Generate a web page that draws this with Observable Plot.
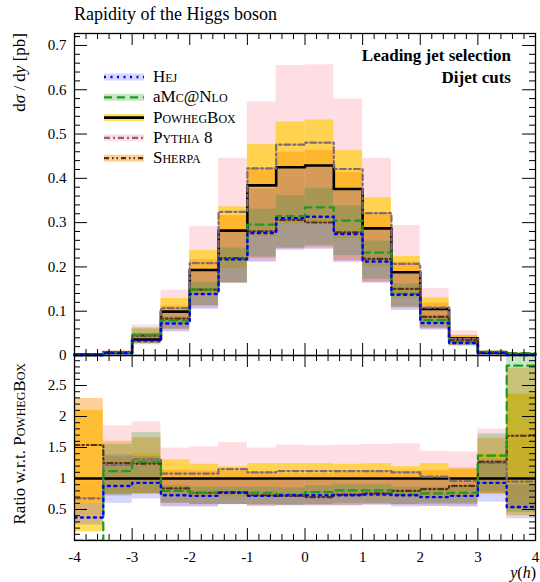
<!DOCTYPE html>
<html><head><meta charset="utf-8">
<script src="https://cdn.jsdelivr.net/npm/d3@7"></script>
<script src="https://cdn.jsdelivr.net/npm/@observablehq/plot@0.6"></script>
<style>
body{margin:0;background:#fff;}
#chart{position:relative;width:540px;height:582px;background:#fff;}
#chart svg{display:block;}
</style></head><body><div id="chart"></div>
<script>
// ---- data ----
const binEdges = [-4,-3.5,-3,-2.5,-2,-1.5,-1,-0.5,0,0.5,1,1.5,2,2.5,3,3.5,4];
// PowhegBox central value dσ/dy [pb]
const powhegXS = [0.002,0.006,0.036,0.099,0.193,0.282,0.384,0.425,0.429,0.376,0.287,0.188,0.105,0.039,0.006,0.002];
// ratios w.r.t. PowhegBox (central)
const powhegRatio = [1,1,1,1,1,1,1,1,1,1,1,1,1,1,1,1];
const hejRatio    = [0.37,0.88,0.93,0.73,0.72,0.77,0.72,0.73,0.73,0.73,0.74,0.73,0.70,0.72,0.93,0.54];
const amcRatio    = [0.00,1.12,1.27,0.80,0.77,0.77,0.77,0.74,0.78,0.81,0.81,0.74,0.76,0.77,1.37,2.82];
const pythiaRatio = [0.68,1.22,1.31,1.08,1.08,1.15,1.10,1.12,1.12,1.12,1.12,1.10,1.03,0.96,1.25,0.95];
const sherpaRatio = [1.54,1.25,1.24,0.84,0.77,0.78,0.73,0.72,0.70,0.74,0.76,0.80,0.83,0.88,1.27,1.69];
// uncertainty bands (ratio units)
const powhegLo = [0.14,0.75,0.75,0.72,0.70,0.70,0.70,0.70,0.70,0.70,0.70,0.70,0.70,0.70,0.75,0.40];
const powhegHi = [2.10,1.35,1.40,1.30,1.23,1.19,1.24,1.24,1.24,1.23,1.24,1.19,1.24,1.15,1.40,2.36];
const sherpaLo = [0.60,0.75,0.75,0.60,0.58,0.58,0.57,0.57,0.57,0.57,0.58,0.58,0.60,0.60,0.75,0.50];
const sherpaHi = [2.29,1.60,1.66,1.13,1.12,1.12,1.10,1.08,1.08,1.10,1.12,1.12,1.13,1.17,1.65,2.78];
const hejLo    = [0.25,0.60,0.67,0.54,0.54,0.58,0.55,0.56,0.56,0.56,0.57,0.54,0.55,0.54,0.62,0.35];
const hejHi    = [0.60,1.38,1.35,1.00,1.00,1.00,0.98,1.00,1.00,1.00,1.00,1.00,0.98,0.95,1.30,0.90];
const amcLo    = [0.00,0.72,0.76,0.60,0.58,0.58,0.58,0.57,0.58,0.60,0.60,0.58,0.58,0.58,0.78,0.45];
const amcHi    = [0.00,1.55,1.74,0.88,0.86,0.86,0.86,0.85,0.88,0.90,0.90,0.86,0.86,0.88,1.72,3.10];
const pythiaLo = [0.40,0.72,0.75,0.55,0.55,0.58,0.55,0.56,0.56,0.56,0.57,0.56,0.55,0.55,0.75,0.60];
const pythiaHi = [0.95,1.85,1.91,1.49,1.51,1.58,1.49,1.54,1.53,1.54,1.55,1.56,1.44,1.43,1.80,1.73];

const topYTicks = [0,0.1,0.2,0.3,0.4,0.5,0.6,0.7];
const ratioYTicks = [0.5,1,1.5,2,2.5];
const xTicks = [-4,-3,-2,-1,0,1,2,3,4];
const legendNames = ["Hej","aMc@Nlo","PowhegBox","Pythia 8","Sherpa"];

// ---- styles ----
const S = {
  hej:    {ratio:hejRatio,    lo:hejLo,    hi:hejHi,    stroke:"#0000ff", width:2.4, dash:"2,4.5",  fill:"#3333ff", op:0.2},
  amc:    {ratio:amcRatio,    lo:amcLo,    hi:amcHi,    stroke:"#1f9a1f", width:2.2, dash:"8,5",    fill:"#1a9a1a", op:0.25},
  powheg: {ratio:powhegRatio, lo:powhegLo, hi:powhegHi, stroke:"#000000", width:2.6, dash:null,     fill:"#ffcc00", op:0.65},
  pythia: {ratio:pythiaRatio, lo:pythiaLo, hi:pythiaHi, stroke:"#806a74", width:2.2, dash:"6,3,2,3", fill:"#ffb6c1", op:0.45},
  sherpa: {ratio:sherpaRatio, lo:sherpaLo, hi:sherpaHi, stroke:"#5b3010", width:2.2, dash:"5,3,1.5,3,1.5,3", fill:"#ff8c00", op:0.4}
};
const bandOrder = ["pythia","powheg","sherpa","amc","hej"];
const lineOrder = ["powheg","pythia","sherpa","amc","hej"];
const legendOrder = ["hej","amc","powheg","pythia","sherpa"];

function bandRows(lo, hi, scale) {
  return lo.map((l,i)=>({x1:binEdges[i], x2:binEdges[i+1], y1:l*(scale?scale[i]:1), y2:hi[i]*(scale?scale[i]:1)}));
}
function stepRows(vals, scale) {
  const pts = vals.map((v,i)=>({x:binEdges[i], y:v*(scale?scale[i]:1)}));
  pts.push({x:binEdges[binEdges.length-1], y:pts[pts.length-1].y});
  return pts;
}
const FONT = "Liberation Serif, DejaVu Serif, serif";
const W = 540, ML = 74, MR = 5;
const FW = W - ML - MR;

function innerTicks(xMaj, xMin, yMaj, yMin, FH) {
  const out = [];
  const tx = (v, len, side) => Plot.tickX(v, {x:d=>d, stroke:"#000", strokeWidth:1, [side]: FH - len});
  const ty = (v, len, side) => Plot.tickY(v, {y:d=>d, stroke:"#000", strokeWidth:1, [side]: FW - len});
  out.push(tx(xMaj, 12, "insetTop"), tx(xMin, 6, "insetTop"), tx(xMaj, 12, "insetBottom"), tx(xMin, 6, "insetBottom"));
  out.push(ty(yMaj, 13, "insetRight"), ty(yMin, 6, "insetRight"), ty(yMaj, 13, "insetLeft"), ty(yMin, 6, "insetLeft"));
  return out;
}
const xMajor = xTicks;
const xMinor = d3.range(-20, 21).filter(i => i % 5 !== 0).map(i => i/5);

// ---- top panel ----
const topH = 355, topMT = 33;
const topMarks = [];
for (const k of bandOrder) {
  const s = S[k];
  topMarks.push(Plot.rect(bandRows(s.lo, s.hi, powhegXS), {x1:"x1", x2:"x2", y1:"y1", y2:"y2", fill:s.fill, fillOpacity:s.op}));
}
for (const k of lineOrder) {
  const s = S[k];
  topMarks.push(Plot.line(stepRows(s.ratio, powhegXS), {x:"x", y:"y", curve:"step-after", stroke:s.stroke, strokeWidth:s.width, strokeDasharray:s.dash}));
}
topMarks.push(...innerTicks(xMajor, xMinor, topYTicks, d3.range(0, 37).filter(i=>i%5!==0).map(i=>i/50), topH - topMT));
topMarks.push(Plot.axisY({ticks: topYTicks, tickSize:0, tickPadding:8, fontSize:15, tickFormat:d=>String(d)}));
topMarks.push(Plot.frame({stroke:"#000", strokeWidth:1.3}));

const topSvg = Plot.plot({
  width: W, height: topH, marginLeft: ML, marginRight: MR, marginTop: topMT, marginBottom: 0,
  x: {domain:[-4,4], axis:null},
  y: {domain:[0,0.727], axis:null},
  style: {fontFamily: FONT, fontSize:"15px", background:"white", color:"#000", overflow:"visible"},
  marks: topMarks
});

// ---- ratio panel ----
const botH = 227, botMB = 42;
const botMarks = [];
for (const k of bandOrder) {
  const s = S[k];
  botMarks.push(Plot.rect(bandRows(s.lo, s.hi, null), {x1:"x1", x2:"x2", y1:"y1", y2:"y2", fill:s.fill, fillOpacity:s.op, clip:true}));
}
for (const k of lineOrder) {
  const s = S[k];
  botMarks.push(Plot.line(stepRows(s.ratio, null), {x:"x", y:"y", curve:"step-after", stroke:s.stroke, strokeWidth:s.width, strokeDasharray:s.dash, clip:true}));
}
botMarks.push(...innerTicks(xMajor, xMinor, [0,0.5,1,1.5,2,2.5], d3.range(0, 30).filter(i=>i%5!==0).map(i=>i/10), botH - botMB));
botMarks.push(Plot.axisY({ticks: ratioYTicks, tickSize:0, tickPadding:8, fontSize:15, tickFormat:d=>String(d)}));
botMarks.push(Plot.axisX({ticks: xTicks, tickSize:0, tickPadding:11, fontSize:15, tickFormat:d=> d<0 ? "-" + (-d) : String(d)}));
botMarks.push(Plot.frame({stroke:"#000", strokeWidth:1.3}));

const botSvg = Plot.plot({
  width: W, height: botH, marginLeft: ML, marginRight: MR, marginTop: 0, marginBottom: botMB,
  x: {domain:[-4,4], axis:null},
  y: {domain:[0,2.984], axis:null},
  style: {fontFamily: FONT, fontSize:"15px", background:"white", color:"#000", overflow:"visible"},
  marks: botMarks
});

const chart = document.getElementById("chart");
chart.appendChild(topSvg);
chart.appendChild(botSvg);

// ---- texts ----
const ts = d3.select(topSvg);
ts.append("text").attr("x", 74).attr("y", 20).attr("text-anchor", "start").attr("font-family", FONT).attr("font-size", 18).text("Rapidity of the Higgs boson");
const yl = ts.append("text").attr("transform", "translate(25,33) rotate(-90)").attr("text-anchor", "end").attr("font-family", FONT).attr("font-size", 17);
yl.append("tspan").text("d");
yl.append("tspan").attr("font-style", "italic").text("σ");
yl.append("tspan").text(" / d");
yl.append("tspan").attr("font-style", "italic").text("y");
yl.append("tspan").text(" [pb]");
ts.append("text").attr("x", 511).attr("y", 61).attr("text-anchor", "end").attr("font-family", FONT).attr("font-weight", "bold").attr("font-size", 17).text("Leading jet selection");
ts.append("text").attr("x", 511).attr("y", 83).attr("text-anchor", "end").attr("font-family", FONT).attr("font-weight", "bold").attr("font-size", 17).text("Dijet cuts");

// legend
legendOrder.forEach((k, i) => {
  const s = S[k];
  const cy = 77 + i * 20.3;
  const g = ts.append("g");
  g.append("rect").attr("x", 104).attr("y", cy - 3.5).attr("width", 40).attr("height", 7).attr("fill", s.fill).attr("fill-opacity", s.op);
  g.append("line").attr("x1", 104).attr("x2", 144).attr("y1", cy).attr("y2", cy).attr("stroke", s.stroke).attr("stroke-width", s.width).attr("stroke-dasharray", s.dash);
  const t = g.append("text").attr("x", 153).attr("y", cy + 5).attr("text-anchor", "start").attr("font-family", FONT).attr("font-size", 17);
  const name = legendNames[i];
  if (name.startsWith("a")) {
    t.append("tspan").text("a");
    t.append("tspan").style("font-variant", "small-caps").text(name.slice(1));
  } else {
    t.append("tspan").style("font-variant", "small-caps").text(name);
  }
});

const bs = d3.select(botSvg);
const rl = bs.append("text").attr("transform", "translate(25,8) rotate(-90)").attr("text-anchor", "end").attr("font-family", FONT).attr("font-size", 17);
rl.append("tspan").text("Ratio w.r.t. ");
rl.append("tspan").style("font-variant", "small-caps").text("PowhegBox");
const xl = bs.append("text").attr("x", 536).attr("y", 223).attr("text-anchor", "end").attr("font-family", FONT).attr("font-size", 16);
xl.append("tspan").attr("font-style", "italic").text("y");
xl.append("tspan").text("(");
xl.append("tspan").attr("font-style", "italic").text("h");
xl.append("tspan").text(")");
</script></body></html>
